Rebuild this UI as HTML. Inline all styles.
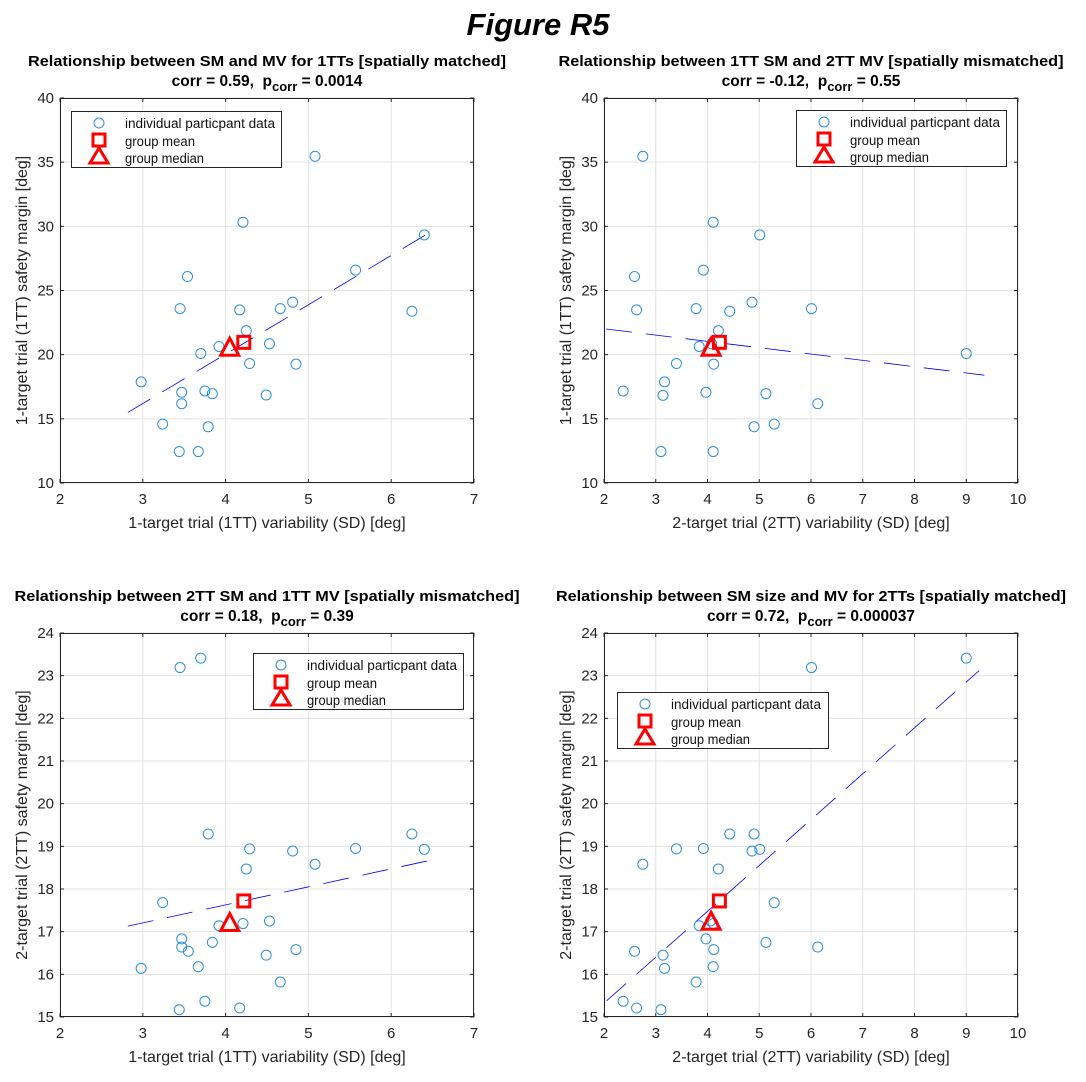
<!DOCTYPE html>
<html><head><meta charset="utf-8">
<style>
html,body{margin:0;padding:0;background:#fff;}
svg{display:block;font-family:"Liberation Sans",Arial,sans-serif;}
</style></head>
<body>
<svg id="fig" width="1086" height="1082" viewBox="0 0 1086 1082">
<text x="538" y="35" text-anchor="middle" font-size="31" font-weight="bold" font-style="italic">Figure R5</text>
</svg>
<script>
// Panel 1: 1TT SM vs 1TT MV
const p1X = [5.08,4.21,6.40,5.57,3.54,3.45,4.17,4.66,4.81,6.25,4.25,4.53,3.92,3.70,4.29,4.85,2.98,3.47,3.75,3.84,3.47,4.49,3.24,3.79,3.44,3.67];
const p1Y = [35.46,30.32,29.33,26.59,26.09,23.59,23.49,23.59,24.09,23.38,21.87,20.85,20.64,20.09,19.31,19.26,17.88,17.07,17.17,16.96,16.18,16.86,14.59,14.38,12.45,12.45];
const p1Mean = [4.22,20.96];
const p1Median = [4.05,20.5];
const p1Fit = [[2.82,15.50],[6.53,29.77]];
// Panel 2: 1TT SM vs 2TT MV
const p2X = [2.75,4.11,5.01,3.92,2.59,2.63,3.78,4.86,4.43,6.01,4.21,3.84,9.00,3.40,4.12,3.17,2.37,3.97,5.13,3.14,6.13,4.90,5.29,3.10,4.11,4.08];
const p2Y = [35.46,30.32,29.33,26.59,26.09,23.49,23.59,24.09,23.38,23.59,21.87,20.64,20.09,19.31,19.26,17.88,17.17,17.07,16.96,16.83,16.18,14.38,14.59,12.45,12.45,20.85];
const p2Mean = [4.23,20.96];
const p2Median = [4.07,20.5];
const p2Fit = [[2.04,22.0],[9.35,18.4]];
// Panel 3: 2TT SM vs 1TT MV
const p3X = [3.70,3.45,3.79,6.25,4.29,4.81,5.57,6.40,5.08,4.25,3.24,3.92,4.21,4.53,3.47,3.47,3.55,3.84,4.49,4.85,2.98,3.67,4.66,3.75,3.44,4.17];
const p3Y = [23.41,23.19,19.29,19.29,18.94,18.89,18.95,18.93,18.58,18.47,17.68,17.14,17.19,17.25,16.83,16.64,16.54,16.75,16.45,16.58,16.14,16.18,15.82,15.37,15.17,15.21];
const p3Mean = [4.22,17.72];
const p3Median = [4.05,17.19];
const p3Fit = [[2.82,17.13],[6.49,18.68]];
// Panel 4: 2TT SM vs 2TT MV
const p4X = [6.01,9.00,4.43,4.90,3.40,3.92,4.86,5.01,2.75,4.21,5.29,3.84,4.06,3.97,5.13,2.59,3.14,6.13,4.12,3.17,4.11,3.78,2.37,2.63,3.10,4.11];
const p4Y = [23.19,23.41,19.29,19.29,18.94,18.95,18.89,18.93,18.58,18.47,17.68,17.14,17.25,16.83,16.75,16.54,16.45,16.64,16.58,16.14,16.18,15.82,15.37,15.21,15.17,17.19];
const p4Mean = [4.23,17.72];
const p4Median = [4.07,17.22];
const p4Fit = [[2.05,15.38],[9.25,23.12]];

const xTicksA = [2,3,4,5,6,7];
const xTicksB = [2,3,4,5,6,7,8,9,10];
const yTicksA = [10,15,20,25,30,35,40];
const yTicksB = [15,16,17,18,19,20,21,22,23,24];

const NS = 'http://www.w3.org/2000/svg';
const svg = document.getElementById('fig');
function mk(tag, attrs, parent){
  const e = document.createElementNS(NS, tag);
  for (const k in attrs) e.setAttribute(k, attrs[k]);
  (parent||svg).appendChild(e);
  return e;
}

function panel(o){
  const g = mk('g', {});
  
  
  const L=o.box[0], R=o.box[1], T=o.box[2], B=o.box[3];
  const xmin=o.xt[0], xmax=o.xt[o.xt.length-1], ymin=o.yt[0], ymax=o.yt[o.yt.length-1];
  const sx = v => L + (v-xmin)/(xmax-xmin)*(R-L);
  const sy = v => B - (v-ymin)/(ymax-ymin)*(B-T);
  mk('rect', {x:L, y:T, width:R-L, height:B-T, fill:'#fff'}, g);
  o.xt.forEach(t => {
    const ln = mk('line', {x1:sx(t), x2:sx(t), y1:T, y2:B, stroke:'#e3e3e3', 'stroke-width':1}, g);
    
    
    mk('line', {x1:sx(t), x2:sx(t), y1:B, y2:B-4, stroke:'#262626'}, g);
    mk('line', {x1:sx(t), x2:sx(t), y1:T, y2:T+4, stroke:'#262626'}, g);
    const tx = mk('text', {x:sx(t), y:B+21, 'text-anchor':'middle', 'font-size':15, fill:'#262626'}, g);
    tx.textContent = t;
    
    
  });
  o.yt.forEach(t => {
    const ln = mk('line', {x1:L, x2:R, y1:sy(t), y2:sy(t), stroke:'#e3e3e3', 'stroke-width':1}, g);
    
    
    mk('line', {x1:L, x2:L+4, y1:sy(t), y2:sy(t), stroke:'#262626'}, g);
    mk('line', {x1:R, x2:R-4, y1:sy(t), y2:sy(t), stroke:'#262626'}, g);
    const tx = mk('text', {x:L-6, y:sy(t)+5, 'text-anchor':'end', 'font-size':15, fill:'#262626'}, g);
    tx.textContent = t;
    
    
  });
  const fr = mk('rect', {x:L+0.5, y:T+0.5, width:R-L-1, height:B-T-1, fill:'none', stroke:'#262626', 'stroke-width':1}, g);
  
  
  const fl = mk('line', {x1:sx(o.fit[0][0]), y1:sy(o.fit[0][1]), x2:sx(o.fit[1][0]), y2:sy(o.fit[1][1]), stroke:'#0000ff', 'stroke-width':0.8, 'stroke-dasharray':'26 14'}, g);
  
  
  o.xs.forEach((v,i) => {
    const c = mk('circle', {cx:sx(v), cy:sy(o.ys[i]), r:5, fill:'none', stroke:'#2f8fd6', 'stroke-width':1}, g);
    
    
  });
  const mx=sx(o.mean[0]), my=sy(o.mean[1]);
  const sq = mk('rect', {x:mx-6, y:my-6, width:12, height:12, fill:'none', stroke:'#ff0000', 'stroke-width':3}, g);
  
  
  const tx0=sx(o.median[0]), ty0=sy(o.median[1]);
  const tri = mk('polygon', {points:`${tx0},${ty0-10} ${tx0-9},${ty0+7} ${tx0+9},${ty0+7}`, fill:'none', stroke:'#ff0000', 'stroke-width':3}, g);
  
  
  const lg = mk('g', {}, g);
  
  
  const [lx, ly, lw, lh] = o.leg;
  mk('rect', {x:lx+0.5, y:ly+0.5, width:lw, height:lh, fill:'#fff', stroke:'#262626', 'stroke-width':1}, lg);
  const ix = lx+28, tx = lx+54;
  mk('circle', {cx:ix, cy:ly+12, r:5, fill:'none', stroke:'#2f8fd6'}, lg);
  mk('rect', {x:ix-6, y:ly+23, width:12, height:12, fill:'none', stroke:'#ff0000', 'stroke-width':3}, lg);
  mk('polygon', {points:`${ix},${ly+37} ${ix-9},${ly+52} ${ix+9},${ly+52}`, fill:'none', stroke:'#ff0000', 'stroke-width':3}, lg);
  [['individual particpant data',17,'legend-entry-individual',150],['group mean',35,'legend-entry-mean',70],['group median',52,'legend-entry-median',79]].forEach(a => {
    const t = mk('text', {x:tx, y:ly+a[1], 'font-size':13.5, fill:'#111', textLength:a[3], lengthAdjust:'spacingAndGlyphs'}, lg);
    t.textContent = a[0];
    
    
  });
  const cx = (L+R)/2;
  const t1 = mk('text', {x:cx, y:T-32, 'text-anchor':'middle', 'font-size':15, 'font-weight':'bold', textLength:o.tw, lengthAdjust:'spacingAndGlyphs'}, g);
  t1.textContent = o.title;
  
  
  const t2 = mk('text', {x:cx, y:T-12, 'text-anchor':'middle', 'font-size':15.5, 'font-weight':'bold'}, g);
  t2.innerHTML = o.corr + ',&#160; p<tspan dy="5" font-size="13">corr</tspan><tspan dy="-5"> = ' + o.p + '</tspan>';
  
  
  const xl = mk('text', {x:cx, y:B+45, 'text-anchor':'middle', 'font-size':16, fill:'#262626'}, g);
  xl.textContent = o.xlabel;
  
  
  const yc = (T+B)/2;
  const yl = mk('text', {x:L-33, y:yc, 'text-anchor':'middle', 'font-size':16, fill:'#262626', transform:`rotate(-90 ${L-33} ${yc})`}, g);
  yl.textContent = o.ylabel;
  
  
}

panel({name:'panel-1tt-matched', box:[60,474,98,483], xt:xTicksA, yt:yTicksA, xs:p1X, ys:p1Y, mean:p1Mean, median:p1Median, fit:p1Fit,
  leg:[71,111,210,56], tw:478, title:'Relationship between SM and MV for 1TTs [spatially matched]', corr:'corr = 0.59', p:'0.0014',
  xlabel:'1-target trial (1TT) variability (SD) [deg]', ylabel:'1-target trial (1TT) safety margin [deg]'});
panel({name:'panel-1tt-sm-2tt-mv', box:[604,1018,98,483], xt:xTicksB, yt:yTicksA, xs:p2X, ys:p2Y, mean:p2Mean, median:p2Median, fit:p2Fit,
  leg:[796,110,210,56], tw:505, title:'Relationship between 1TT SM and 2TT MV [spatially mismatched]', corr:'corr = -0.12', p:'0.55',
  xlabel:'2-target trial (2TT) variability (SD) [deg]', ylabel:'1-target trial (1TT) safety margin [deg]'});
panel({name:'panel-2tt-sm-1tt-mv', box:[60,474,633,1017], xt:xTicksA, yt:yTicksB, xs:p3X, ys:p3Y, mean:p3Mean, median:p3Median, fit:p3Fit,
  leg:[253,653,210,56], tw:505, title:'Relationship between 2TT SM and 1TT MV [spatially mismatched]', corr:'corr = 0.18', p:'0.39',
  xlabel:'1-target trial (1TT) variability (SD) [deg]', ylabel:'2-target trial (2TT) safety margin [deg]'});
panel({name:'panel-2tt-matched', box:[604,1018,633,1017], xt:xTicksB, yt:yTicksB, xs:p4X, ys:p4Y, mean:p4Mean, median:p4Median, fit:p4Fit,
  leg:[617,692,211,56], tw:510, title:'Relationship between SM size and MV for 2TTs [spatially matched]', corr:'corr = 0.72', p:'0.000037',
  xlabel:'2-target trial (2TT) variability (SD) [deg]', ylabel:'2-target trial (2TT) safety margin [deg]'});
</script>
</body></html>
